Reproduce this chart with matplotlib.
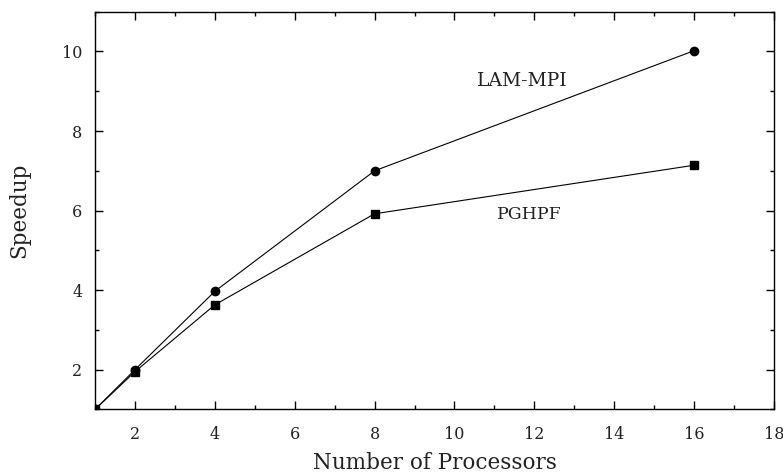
import numpy as np
import matplotlib.pyplot as plt
from matplotlib.ticker import MultipleLocator

procs = [1, 2, 4, 8, 16]
lam_mpi = [1.0, 2.0, 3.97, 7.0, 10.02]
pghpf = [1.0, 1.95, 3.63, 5.92, 7.14]

plt.rcParams['font.family'] = ['DejaVu Serif']

fig = plt.figure(figsize=(7.83, 4.75), dpi=100)
ax = fig.add_axes([0.1213, 0.1379, 0.8672, 0.8375])

ax.plot(procs, lam_mpi, color='black', lw=0.8, marker='o', ms=6, mfc='black', mec='black')
ax.plot(procs, pghpf, color='black', lw=0.8, marker='s', ms=6, mfc='black', mec='black')

ax.text(11.71, 9.26, "LAM-MPI", ha='center', va='center', fontsize=13.5, color='#222222')
ax.text(11.88, 5.89, "PGHPF", ha='center', va='center', fontsize=12.5, color='#222222')

ax.set_xlim(1, 18)
ax.set_ylim(1, 11)
ax.xaxis.set_major_locator(MultipleLocator(2))
ax.xaxis.set_minor_locator(MultipleLocator(1))
ax.yaxis.set_major_locator(MultipleLocator(2))
ax.yaxis.set_minor_locator(MultipleLocator(1))
ax.tick_params(which='both', direction='in', top=True, right=True, width=1.0)
ax.tick_params(which='major', length=6, labelsize=11.5, labelcolor='#222222')
ax.tick_params(axis='x', which='major', pad=12)
ax.tick_params(axis='y', which='major', pad=9)
ax.tick_params(which='minor', length=3)
for s in ax.spines.values():
    s.set_linewidth(1.0)

ax.set_xlabel("Number of Processors", fontsize=15.5, labelpad=6.5, color='#222222')
ax.set_ylabel("Speedup", fontsize=15.5, labelpad=23, color='#222222')

fig.savefig("out.png", dpi=100)
